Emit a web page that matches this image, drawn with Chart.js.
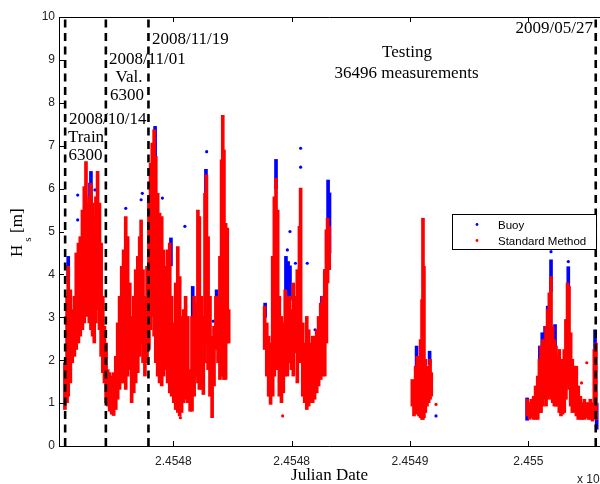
<!DOCTYPE html>
<html>
<head>
<meta charset="utf-8">
<script src="https://cdn.jsdelivr.net/npm/chart.js@4/dist/chart.umd.min.js"></script>
<style>
html,body{margin:0;padding:0;background:#fff;}
#wrap{width:600px;height:484px;position:relative;}
</style>
</head>
<body>
<div id="wrap"><canvas id="c" width="600" height="484"></canvas></div>
<script>
// ---------- DATA (Julian Date, significant wave height Hs in m) ----------
// Standard Method: range of Hs values seen in each short time slot
const smDate = [
2454754.2,2454755.1,2454755.6,2454756.5,2454757.3,2454758.2,2454759.0,2454759.9,2454760.7,2454761.6,
2454762.4,2454763.1,2454763.8,2454764.5,2454765.2,2454765.9,2454766.6,2454767.3,2454768.0,2454768.8,
2454769.5,2454770.2,2454770.9,2454771.6,2454772.3,2454773.1,2454774.0,2454774.8,2454775.7,2454776.5,
2454777.3,2454778.2,2454779.0,2454779.9,2454780.7,2454781.6,2454782.4,2454783.3,2454784.1,2454785.0,
2454785.8,2454786.4,2454787.2,2454788.0,2454788.9,2454789.7,2454790.4,2454791.1,2454791.9,2454792.6,
2454793.4,2454794.2,2454795.1,2454795.9,2454796.8,2454797.6,2454798.5,2454799.3,2454800.2,2454801.0,
2454801.9,2454802.7,2454803.5,2454804.4,2454805.2,2454806.1,
2454807.1,2454807.9,2454808.8,2454809.6,2454810.4,2454811.0,2454811.9,2454812.7,2454813.4,2454814.0,
2454814.7,2454815.5,2454816.4,2454817.2,2454818.0,2454818.9,2454819.7,2454820.4,2454820.9,2454821.4,
2454822.1,2454822.8,2454823.4,
2454838.6,2454839.5,2454840.3,2454841.1,2454842.0,2454842.7,2454843.4,2454844.1,2454844.8,2454845.7,
2454846.5,2454847.3,2454848.2,2454849.0,2454849.9,2454850.7,2454851.6,2454852.4,2454853.3,2454853.8,
2454854.7,2454855.5,2454856.4,2454857.2,2454858.0,2454858.9,2454859.7,2454860.6,2454861.4,2454862.3,
2454863.1,2454864.0,2454864.7,2454865.2,2454865.9,
2454901.0,2454901.7,2454902.4,2454903.1,2454903.8,2454904.5,2454905.1,2454905.5,2454905.9,2454906.5,
2454907.2,2454907.9,2454908.5,2454909.0,
2454949.7,2454950.6,2454951.4,2454952.3,2454953.1,2454954.0,2454954.7,2454955.4,2454956.1,2454956.8,
2454957.5,2454958.2,2454958.9,2454959.6,2454960.3,2454961.0,2454961.7,2454962.4,2454963.1,2454963.8,
2454964.5,2454965.2,2454965.9,2454966.6,2454967.2,2454967.9,2454968.6,2454969.5,2454970.3,2454971.1,
2454972.0,2454972.8,2454973.7,2454974.5,2454975.4,2454976.2,2454977.1,2454977.9,2454978.6
];
const smHigh = [
1.94,3.49,4.19,3.64,3.18,3.49,4.50,4.73,4.88,5.50,
6.05,6.63,5.66,5.81,6.12,5.66,5.35,5.81,6.40,5.66,
4.73,3.49,2.79,2.40,1.78,1.71,1.63,1.71,2.09,2.87,
3.49,4.19,4.57,5.35,4.88,3.80,3.02,3.49,4.11,4.42,
4.88,5.27,4.11,3.49,4.19,5.81,6.59,7.06,7.37,6.75,
5.89,5.43,5.35,4.57,4.19,4.57,4.73,3.49,2.87,3.80,
4.65,3.95,3.02,3.18,3.49,3.02,
1.78,3.02,3.49,3.33,5.50,5.35,3.49,3.02,5.89,6.32,
4.88,3.49,2.56,2.79,3.49,3.49,4.42,6.67,7.71,6.90,
5.19,5.08,3.18,
3.26,2.87,2.56,2.40,4.42,5.81,6.24,5.50,3.49,3.02,
2.87,3.64,3.49,3.49,3.18,3.80,3.49,4.11,5.12,6.01,
2.87,2.40,3.02,2.71,2.40,2.56,2.56,2.71,3.02,3.33,
3.49,4.11,5.04,5.31,5.12,
1.55,1.40,1.86,2.09,2.02,2.48,3.41,5.31,4.19,2.02,
1.63,1.86,2.02,1.71,
1.09,1.01,1.09,1.16,1.40,1.63,2.02,2.33,2.48,2.40,
2.79,3.18,3.57,3.95,2.79,2.48,2.33,2.09,2.25,1.78,
2.02,2.25,2.95,3.80,3.72,2.64,2.02,1.86,1.86,1.40,
1.16,1.01,1.09,1.01,1.01,1.09,1.01,2.25,2.40
];
const smLow = [
0.85,1.01,1.16,1.47,1.94,2.09,2.25,2.40,2.56,2.71,
2.87,3.18,3.02,2.87,2.71,2.56,2.40,2.87,3.18,2.71,
2.09,1.71,1.47,1.01,0.93,0.81,0.74,0.71,0.85,1.09,
1.32,1.47,1.47,1.32,1.63,1.78,1.01,1.24,1.47,1.71,
2.09,2.40,1.94,1.63,1.94,2.25,2.71,3.02,2.56,1.94,
1.63,1.47,1.40,1.63,1.78,1.47,1.24,1.16,1.01,0.85,
0.78,0.70,0.78,1.01,1.09,1.01,
0.81,0.81,1.16,1.63,1.47,1.32,1.32,1.20,1.94,2.40,
1.78,1.16,0.66,1.40,2.25,1.94,1.55,1.63,3.49,1.55,
1.55,2.40,2.40,
2.25,1.63,1.16,0.97,1.16,1.63,1.94,1.78,1.16,1.01,
1.24,1.63,1.63,1.94,1.78,1.63,2.17,1.47,1.94,2.40,
1.16,1.01,0.85,0.93,1.01,1.01,1.09,1.24,1.40,1.55,
1.63,1.63,2.40,3.80,4.11,
0.93,0.70,0.74,0.78,0.70,0.66,0.62,0.62,0.66,0.78,
0.93,1.01,1.09,1.16,
0.70,0.62,0.66,0.62,0.62,0.62,0.78,0.78,0.93,1.09,
0.93,1.09,1.16,1.09,1.01,0.93,0.93,0.93,0.78,0.70,
0.74,0.78,1.09,1.40,1.32,0.93,0.78,0.78,0.70,0.62,
0.62,0.62,0.62,0.66,0.62,0.62,0.58,0.78,0.62
];
// Standard Method isolated points
const smPtDate = [2454803.0,2454846.2,2454911.0,2454972.5,2454974.7];
const smPtHs   = [0.66,0.70,0.97,1.47,1.94];

// Buoy: slots where buoy values show beyond the Standard Method values
const buoyDate = [
2454755.6,2454757.9,2454761.0,2454764.8,2454765.2,2454767.3,2454790.9,2454792.3,2454796.5,2454799.0,
2454808.2,2454813.8,2454818.3,2454838.8,2454843.4,2454847.6,2454848.5,2454849.3,2454862.8,2454864.1,
2454865.4,2454866.0,2454902.8,2454908.3,2454949.5,2454954.9,2454955.9,2454957.1,2454958.2,2454959.6,
2454961.3,2454966.9,2454978.2,2454978.9
];
const buoyLow = [
3.95,2.40,3.64,5.50,5.60,3.64,5.60,6.50,3.90,4.20,
3.00,5.80,3.00,3.00,6.00,3.60,3.50,3.40,3.20,3.60,
5.00,4.50,1.80,1.90,0.60,2.00,2.30,2.30,2.80,3.60,
2.20,3.40,2.00,0.39
];
const buoyHigh = [
4.42,2.87,4.19,6.13,6.40,4.42,5.89,7.45,4.11,4.85,
3.72,6.45,3.64,3.33,6.68,4.42,4.30,4.20,3.49,4.11,
6.20,5.90,2.33,2.21,1.12,2.33,2.64,2.79,3.26,4.34,
2.83,4.18,2.71,1.00
];
// Buoy isolated points
const buoyPtDate = [
2454759.6,2454759.6,2454766.9,2454779.9,2454786.9,2454786.4,2454795.4,2454804.9,2454814.1,2454816.9,
2454848.2,2454849.3,2454851.6,2454853.8,2454853.8,2454856.6,2454859.9,2454911.0,2454959.6,2454966.9
];
const buoyPtHs = [
5.85,5.27,5.97,5.54,5.89,5.74,5.78,5.12,6.86,2.91,
4.57,5.00,4.26,6.94,6.50,4.26,2.71,0.70,4.53,4.30
];

// Split dates (dashed lines): train start, validation start, testing start, testing end
const splitDates = [2454754.3, 2454771.5, 2454789.5, 2454978.5];

// Axes
const xRange = [2454751.7, 2454980.3];
const xTickValues = [2454800, 2454850, 2454900, 2454950];
const xTickLabels = ['2.4548', '2.4548', '2.4549', '2.455'];
const yRange = [0, 10];

// ---------- CHART ----------
const SANS = '"Liberation Sans", Arial, sans-serif';
const SERIF = '"Liberation Serif", "Times New Roman", serif';

const overlay = {
  id: 'overlay',
  afterDraw(chart) {
    const ctx = chart.ctx;
    const a = chart.chartArea;
    const xs = chart.scales.x, ys = chart.scales.y;
    ctx.save();
    // axes frame (left, bottom, top)
    ctx.strokeStyle = '#000';
    ctx.lineWidth = 1;
    ctx.beginPath();
    ctx.moveTo(a.right, Math.round(a.top) + 0.5);
    ctx.lineTo(Math.round(a.left) + 0.5, Math.round(a.top) + 0.5);
    ctx.lineTo(Math.round(a.left) + 0.5, Math.round(a.bottom) + 0.5);
    ctx.lineTo(a.right, Math.round(a.bottom) + 0.5);
    ctx.stroke();
    // inward tick marks
    ctx.beginPath();
    xTickValues.forEach(v => {
      const px = Math.round(xs.getPixelForValue(v)) + 0.5;
      ctx.moveTo(px, a.bottom); ctx.lineTo(px, a.bottom - 5);
      ctx.moveTo(px, a.top); ctx.lineTo(px, a.top + 5);
    });
    ys.ticks.forEach(t => {
      const py = Math.round(ys.getPixelForValue(t.value)) + 0.5;
      ctx.moveTo(a.left, py); ctx.lineTo(a.left + 5, py);
    });
    ctx.stroke();

    // annotations
    ctx.fillStyle = '#000';
    ctx.font = '17px ' + SERIF;
    ctx.textBaseline = 'alphabetic';
    const notes = [
      ['2008/11/19', 152, 44, 'left'],
      ['2008/11/01', 109, 64, 'left'],
      ['Val.', 129, 82, 'center'],
      ['6300', 127, 100, 'center'],
      ['2008/10/14', 69, 124, 'left'],
      ['Train', 86, 142, 'center'],
      ['6300', 85.5, 160, 'center'],
      ['Testing', 407, 57, 'center'],
      ['36496 measurements', 406.5, 78, 'center'],
      ['2009/05/27', 593, 33, 'right']
    ];
    notes.forEach(n => { ctx.textAlign = n[3]; ctx.fillText(n[0], n[1], n[2]); });

    // x axis title
    ctx.textAlign = 'center';
    ctx.fillText('Julian Date', (a.left + a.right) / 2, 480);
    // exponent
    ctx.font = '12px ' + SANS;
    ctx.textAlign = 'left';
    ctx.fillStyle = '#222';
    ctx.fillText('x 10', 577, 483);

    // y axis title  H_s [m]
    ctx.save();
    ctx.translate(22, 257);
    ctx.rotate(-Math.PI / 2);
    ctx.fillStyle = '#000';
    ctx.textAlign = 'left';
    ctx.font = '17px ' + SERIF;
    ctx.fillText('H', 0, 0);
    const wH = ctx.measureText('H').width;
    ctx.font = '11px ' + SERIF;
    ctx.fillText('s', wH + 3, 9);
    ctx.font = '17px ' + SERIF;
    ctx.fillText('[m]', 24, 0);
    ctx.restore();

    // legend
    const lx = 452.5, ly = 214.5, lw = 144, lh = 35;
    ctx.fillStyle = '#fff';
    ctx.fillRect(lx, ly, lw, lh);
    ctx.strokeStyle = '#000';
    ctx.lineWidth = 1;
    ctx.strokeRect(lx, ly, lw, lh);
    const items = [['Buoy', '#0000ff', 224.5, 228.5], ['Standard Method', '#ff0000', 240.5, 245]];
    ctx.font = '11.5px ' + SANS;
    ctx.textAlign = 'left';
    items.forEach(it => {
      ctx.fillStyle = it[1];
      ctx.beginPath(); ctx.arc(477, it[2], 1.4, 0, Math.PI * 2); ctx.fill();
      ctx.fillStyle = '#000';
      ctx.fillText(it[0], 498, it[3]);
    });
    ctx.restore();
  }
};

const datasets = [];
splitDates.forEach(d => {
  datasets.push({
    type: 'line', label: 'split', data: [{x: d, y: yRange[0]}, {x: d, y: yRange[1]}],
    borderColor: '#000', borderWidth: 2.6, borderDash: [8, 5.5], pointRadius: 0, order: 0
  });
});
datasets.push({
  type: 'scatter', label: 'Standard Method pts',
  data: smPtDate.map((d, i) => ({x: d, y: smPtHs[i]})),
  pointRadius: 1.6, pointBorderWidth: 0, pointBackgroundColor: '#ff0000', order: 1
});
datasets.push({
  type: 'bar', label: 'Standard Method',
  data: smDate.map((d, i) => ({x: d, y: [smLow[i], smHigh[i]]})),
  backgroundColor: '#ff0000', borderWidth: 0, barThickness: 3, grouped: false, order: 2
});
datasets.push({
  type: 'scatter', label: 'Buoy pts',
  data: buoyPtDate.map((d, i) => ({x: d, y: buoyPtHs[i]})),
  pointRadius: 1.6, pointBorderWidth: 0, pointBackgroundColor: '#0000ff', order: 3
});
datasets.push({
  type: 'bar', label: 'Buoy',
  data: buoyDate.map((d, i) => ({x: d, y: [buoyLow[i], buoyHigh[i]]})),
  backgroundColor: '#0000ff', borderWidth: 0, barThickness: 3, grouped: false, order: 4
});

new Chart(document.getElementById('c'), {
  type: 'bar',
  data: { datasets },
  plugins: [overlay],
  options: {
    responsive: false,
    animation: false,
    devicePixelRatio: 1,
    layout: { autoPadding: false, padding: { top: 17, right: 0, bottom: 0, left: 0 } },
    plugins: { legend: { display: false }, tooltip: { enabled: false } },
    scales: {
      x: {
        type: 'linear', min: xRange[0], max: xRange[1], offset: false,
        grid: { display: false, drawTicks: false }, border: { display: false },
        afterBuildTicks: s => { s.ticks = xTickValues.map(v => ({ value: v })); },
        afterFit: s => { s.height = 38; },
        ticks: {
          autoSkip: false, maxRotation: 0, padding: 8, color: '#222',
          font: { family: SANS, size: 12 },
          callback: (v, i) => xTickLabels[i]
        }
      },
      y: {
        min: yRange[0], max: yRange[1],
        grid: { display: false, drawTicks: false }, border: { display: false },
        afterFit: s => { s.width = 59; },
        ticks: { stepSize: 1, padding: 4, color: '#222', font: { family: SANS, size: 12 } }
      }
    }
  }
});
</script>
</body>
</html>
